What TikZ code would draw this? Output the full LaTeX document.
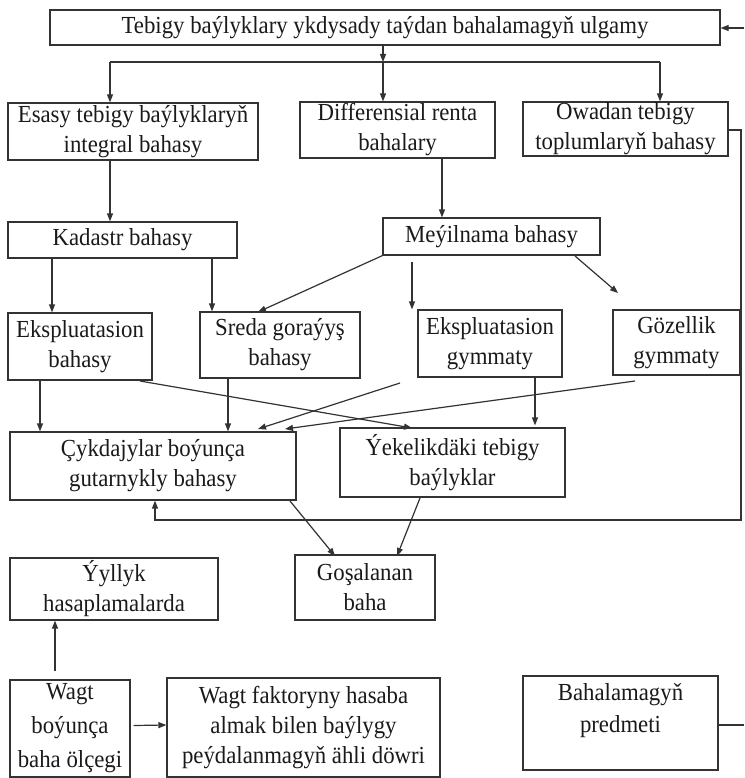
\documentclass[tikz,border=0pt]{standalone}
\usepackage{fontspec}
\setmainfont{Liberation Serif}[FakeStretch=0.93]
\usetikzlibrary{arrows.meta,calc}
\definecolor{ln}{HTML}{333333}
\definecolor{tx}{HTML}{1A1A1A}
\begin{document}
\begin{tikzpicture}[x=1pt,y=-1pt,
  box/.style={draw=ln, line width=1.2pt, align=center, inner sep=0pt, text=tx,
    font=\fontsize{24.5}{30}\selectfont},
  arr/.style={draw=ln, line width=1.2pt, -{Triangle[length=8pt,width=6pt]}},
  ln/.style={draw=ln, line width=1.2pt}]
\useasboundingbox[fill=white] (0,0) rectangle (744,778);
% boxes
\node[box, minimum width=670, minimum height=35] (top) at (385,27.5) {Tebigy baýlyklary ykdysady taýdan bahalamagyň ulgamy};
\node[box, minimum width=250, minimum height=57] (esasy) at (133,131.5) {Esasy tebigy baýlyklaryň\\integral bahasy};
\node[box, minimum width=195, minimum height=56] (diff) at (397.5,130) {Differensial renta\\bahalary};
\node[box, minimum width=205, minimum height=54] (owadan) at (625.5,129) {Owadan tebigy\\toplumlaryň bahasy};
\node[box, minimum width=229, minimum height=36] (kadastr) at (122.5,240) {Kadastr bahasy};
\node[box, minimum width=217, minimum height=37] (meyil) at (491.5,236.5) {Meýilnama bahasy};
\node[box, minimum width=144, minimum height=67] (ekspb) at (80,346.5) {Ekspluatasion\\bahasy};
\node[box, minimum width=160, minimum height=66] (sreda) at (280,345) {Sreda goraýyş\\bahasy};
\node[box, minimum width=144, minimum height=67] (ekspg) at (490,343.5) {Ekspluatasion\\gymmaty};
\node[box, minimum width=127, minimum height=65] (goz) at (676.5,342.5) {Gözellik\\gymmaty};
\node[box, minimum width=286, minimum height=68] (cyk) at (153,466) {Çykdajylar boýunça\\gutarnykly bahasy};
\node[box, minimum width=225, minimum height=69] (yek) at (452.5,462.5) {Ýekelikdäki tebigy\\baýlyklar};
\node[box, minimum width=140, minimum height=65] (gos) at (365,587.5) {Goşalanan\\baha};
\node[box, minimum width=208, minimum height=62] (yyl) at (114,589) {Ýyllyk\\hasaplamalarda};
\node[box, minimum width=120, minimum height=97, font=\fontsize{24.5}{34}\selectfont] (wagt) at (70,728.5) {Wagt\\boýunça\\baha ölçegi};
\node[box, minimum width=273, minimum height=99] (wf) at (303.5,727.5) {Wagt faktoryny hasaba\\almak bilen baýlygy\\peýdalanmagyň ähli döwri};
\node[box, minimum width=195, minimum height=94] (bah) at (620.5,723) {};
\node[font=\fontsize{24.5}{32}\selectfont, text=tx, align=center, inner sep=0pt] (bahtxt) at (620.5,711) {Bahalamagyň\\predmeti};
% coordinates
\coordinate (j0) at (383,62);
\coordinate (jl) at (110,62);
\coordinate (jr) at (660,62);
\coordinate (c442) at (442,0);
\coordinate (c52) at (52,0);
\coordinate (c212) at (212,0);
\coordinate (c412) at (412,0);
\coordinate (c40) at (40,0);
\coordinate (c228) at (228,0);
\coordinate (c535) at (535,0);
\coordinate (c155) at (155,0);
\coordinate (c55) at (55,0);
\coordinate (gozend) at (618,293);
\coordinate (gozst) at (575,256);
\coordinate (sredatip) at (258,312);
\coordinate (xa) at (140,381);
\coordinate (xatip) at (412,428);
\coordinate (xb) at (400,383);
\coordinate (xbtip) at (258,429);
\coordinate (xc) at (635,381);
\coordinate (xctip) at (285,429);
\coordinate (lp1) at (741,130);
\coordinate (lp2) at (741,520);
\coordinate (lp3) at (155,520);
\coordinate (g1) at (290,501);
\coordinate (g1t) at (335,556);
\coordinate (g2) at (420,498);
\coordinate (g2t) at (397,556);
\coordinate (redge) at (744,28);
\coordinate (bedge) at (744,725);
% connectors
\draw[arr] (top.south -| j0) -- (j0);
\draw[ln] (jl) -- (jr);
\draw[arr] (jl) -- (jl |- esasy.north);
\draw[arr] (j0) -- (j0 |- diff.north);
\draw[arr] (jr) -- (jr |- owadan.north);
\draw[arr] (esasy.south -| jl) -- (kadastr.north -| jl);
\draw[arr] (diff.south -| c442) -- (meyil.north -| c442);
\draw[arr] (kadastr.south -| c52) -- (ekspb.north -| c52);
\draw[arr] (kadastr.south -| c212) -- (sreda.north -| c212);
\draw[arr] (meyil.south west) -- (sredatip);
\draw[arr] (meyil.south -| c412) ++(0,6) -- (ekspg.north -| c412);
\draw[arr] (gozst) -- (gozend);
\draw[arr] (ekspb.south -| c40) -- (cyk.north -| c40);
\draw[arr] (sreda.south -| c228) -- (cyk.north -| c228);
\draw[arr] (xa) -- (xatip);
\draw[arr] (xb) -- (xbtip);
\draw[arr] (xc) -- (xctip);
\draw[arr] (ekspg.south -| c535) -- ($(yek.north -| c535)+(0,-2)$);
\draw[arr] (owadan.east |- lp1) -- (lp1) -- (lp2) -- (lp3) -- (cyk.south -| c155);
\draw[arr] (g1) -- (g1t);
\draw[arr] (g2) -- (g2t);
\draw[arr] (wagt.north -| c55) ++(0,-8) -- (yyl.south -| c55);
\draw[arr] ($(wagt.east)+(3,-3)$) -- (wf.west |- 0,725);
\draw[arr] (redge) -- (top.east |- redge);
\draw[ln] (bah.east |- bedge) -- (bedge);
\end{tikzpicture}
\end{document}
